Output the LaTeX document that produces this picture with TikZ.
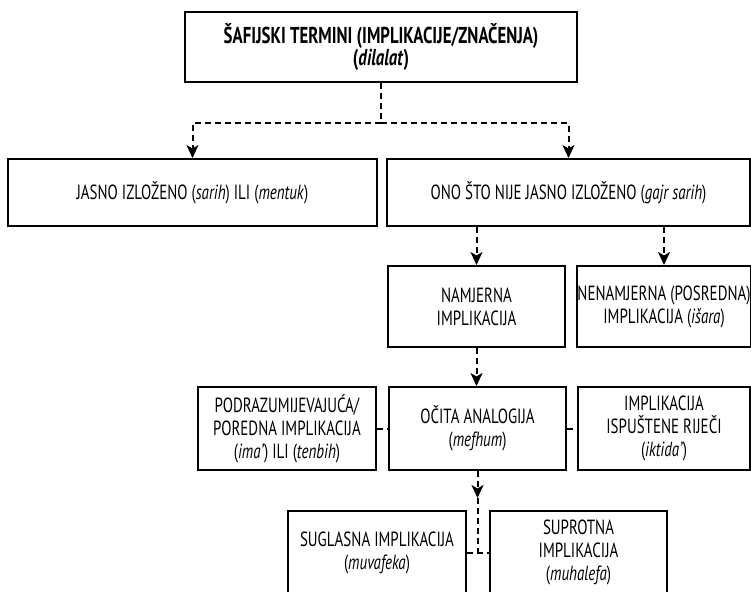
\documentclass[tikz,border=0pt]{standalone}
\usepackage{fontspec}
\setmainfont[FakeStretch=0.73]{PT Sans}
\usetikzlibrary{arrows.meta, positioning}

\begin{document}
\begin{tikzpicture}[x=1pt, y=-1pt, font=\fontsize{20.5}{23}\selectfont,
    box/.style={draw, line width=2pt, align=center, inner sep=0pt, minimum width=#1},
    conn/.style={line width=2pt, dash pattern=on 6pt off 4pt},
    tip/.style={-{Stealth[length=13pt, width=12pt, inset=3.5pt]}}]
\useasboundingbox (0,0) rectangle (751,591);
\clip (0,0) rectangle (751,591);
\node[box=392pt, minimum height=70pt, font=\fontsize{23}{21}\selectfont\bfseries] (termini) at (381,47)
    {ŠAFIJSKI TERMINI (IMPLIKACIJE/ZNAČENJA)\\(\textit{dilalat})};
\node[box=369pt, minimum height=67pt] (jasno) at (192.5,192.5) {JASNO IZLOŽENO (\textit{sarih}) ILI (\textit{mentuk})};
\node[box=363pt, minimum height=67pt] (ono) at (568.5,192.5) {ONO ŠTO NIJE JASNO IZLOŽENO (\textit{gajr sarih})};
\node[box=177pt, minimum height=81pt] (namjerna) at (476.5,306.5) {NAMJERNA\\IMPLIKACIJA};
\node[box=172pt, minimum height=81pt] (nenamjerna) at (664,306.5) {NENAMJERNA (POSREDNA)\\IMPLIKACIJA (\textit{išara})};
\node[box=177pt, minimum height=83pt] (ocita) at (477.5,428.5) {OČITA ANALOGIJA\\(\textit{mefhum})};
\node[box=178pt, minimum height=83pt] (podraz) at (287,428.5) {PODRAZUMIJEVAJUĆA/\\POREDNA IMPLIKACIJA\\(\textit{ima’}) ILI (\textit{tenbih})};
\node[box=172pt, minimum height=83pt] (ispustene) at (664,428.5) {IMPLIKACIJA\\ISPUŠTENE RIJEČI\\(\textit{iktida’})};
\node[box=178pt, minimum height=83pt] (suglasna) at (377,552.5) {SUGLASNA IMPLIKACIJA\\(\textit{muvafeka})};
\node[box=177pt, minimum height=83pt] (suprotna) at (578.5,552.5) {SUPROTNA\\IMPLIKACIJA\\(\textit{muhalefa})};
% dashed connectors
\coordinate (split) at (381,123);
\draw[conn] (termini.south) -- (split);
\draw[conn, tip] (split) -| (jasno.north);
\draw[conn, tip] (split) -| (ono.north);
\draw[conn, tip] (ono.south -| namjerna.north) -- (namjerna.north);
\draw[conn, tip] (ono.south -| nenamjerna.north) -- (nenamjerna.north);
\draw[conn, tip] (namjerna.south) -- (namjerna.south |- ocita.north);
\draw[conn] (podraz) -- (ocita);
\draw[conn] (ocita) -- (ispustene);
\coordinate (join) at (ocita.south |- suglasna.east);
\draw[conn, tip] (ocita.south) -- ++(0,27) coordinate (mid);
\draw[conn] (mid) -- (join);
\draw[conn] (suglasna) -- (suprotna);
\end{tikzpicture}
\end{document}
